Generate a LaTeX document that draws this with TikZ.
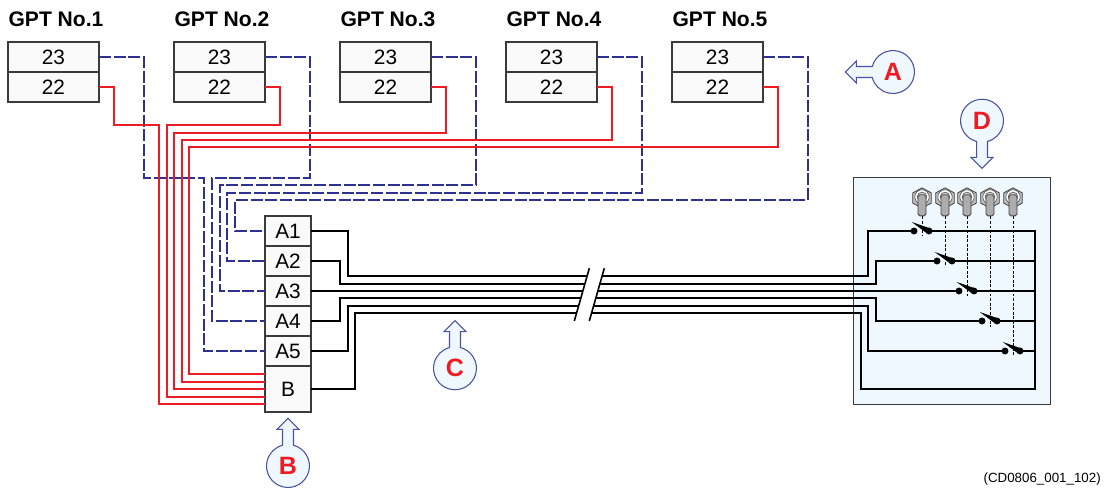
\documentclass[tikz,border=0pt]{standalone}
\usepackage{fontspec}
\setmainfont{Liberation Sans}
\usetikzlibrary{calc}
\definecolor{blueln}{HTML}{2E3192}
\definecolor{redln}{HTML}{ED1C24}
\definecolor{panelf}{HTML}{EFF8FE}
\definecolor{calloutd}{HTML}{4A52A3}
\definecolor{boxf}{HTML}{FAFAFA}
\definecolor{boxd}{HTML}{3A3A3A}
\tikzset{
  gptbox/.style={draw=boxd,fill=boxf,line width=1.1pt,minimum width=68.25pt,minimum height=22.5pt,inner sep=0pt,outer sep=0pt,font=\fontsize{15.6}{18}\selectfont},
  conbox/.style={draw=boxd,fill=boxf,line width=1.1pt,minimum width=34.5pt,inner sep=0pt,outer sep=0pt,font=\fontsize{15.6}{18}\selectfont},
  gpttitle/.style={font=\bfseries\fontsize{15.8}{18}\selectfont,inner sep=0pt},
  dashln/.style={draw=blueln,line width=1.5pt,dash pattern=on 9pt off 2pt},
  redwire/.style={draw=redln,line width=1.5pt},
  blackwire/.style={draw=black,line width=1.5pt},
  contact/.style={circle,fill=black,inner sep=0pt,minimum size=5.2pt},
  linkdash/.style={draw=black,line width=.75pt,dash pattern=on 2.2pt off 1.2pt},
  letter/.style={text=redln,font=\bfseries\fontsize{18.8}{20}\selectfont,inner sep=0pt},
}
\newcommand{\calloutshape}[3]{%
  \begin{scope}[shift={(#1,#2)},x=1pt,y=1pt,rotate=#3]
    \draw[draw=calloutd,fill=panelf,line width=.8pt,line join=miter]
      (4.1,15.57) arc[start angle=75.2,end angle=-255.2,radius=16.1]
      -- (-4.1,27.5) -- (-8.25,27.5) -- (0,35.8) -- (8.25,27.5) -- (4.1,27.5) -- cycle;
  \end{scope}}
\newcommand{\toggle}[2]{%
  \begin{scope}[shift={(#1,#2)},x=1pt,y=1pt]
    \draw[draw=black!75,fill=black!25,line width=.6pt]
      (0,7.6) -- (7,3.8) -- (7,-3.8) -- (0,-7.6) -- (-7,-3.8) -- (-7,3.8) -- cycle;
    \draw[draw=black!65,fill=white,line width=.5pt] (0,.8) circle[radius=5.4];
    \draw[draw=black!65,fill=black!15,line width=.5pt] (0,.8) circle[radius=3.6];
    \draw[draw=black!75,fill=black!32,line width=.6pt,rounded corners=1.4pt]
      (-3,2.4) -- (3,2.4) -- (3,-13.4) -- (-3,-13.4) -- cycle;
  \end{scope}}
\newcommand{\blade}[2]{%
  \fill[black] ($(#1)+(-2.3,-9)$) -- ($(#2)+(1.5,-2.5)$) -- ($(#2)+(-2.5,2)$) -- cycle;}
\begin{document}
\begin{tikzpicture}[x=.75pt,y=-.75pt]
\useasboundingbox (0,0) rectangle (1110,488);

% panel
\path[fill=panelf,draw=boxd,line width=.9pt] (853.5,177.5) rectangle (1050.3,404.3);

% GPT blocks
\foreach \n/\x in {1/53.5,2/219.5,3/385.5,4/551.5,5/717.5}{
  \node[gpttitle,anchor=base] (t\n) at (\x+2.5,27) {GPT No.\n};
  \node[gptbox] (g\n a) at (\x,57) {23};
  \node[gptbox] (g\n b) at (\x,87) {22};
}

% connector block
\node[conbox,minimum height=22.5pt] (a1) at (288,231) {A1};
\node[conbox,minimum height=22.5pt] (a2) at (288,261) {A2};
\node[conbox,minimum height=22.5pt] (a3) at (288,291) {A3};
\node[conbox,minimum height=22.5pt] (a4) at (288,321) {A4};
\node[conbox,minimum height=22.5pt] (a5) at (288,351) {A5};
\node[conbox,minimum height=34.5pt] (b)  at (288,389) {B};

% dashed wires
\draw[dashln] (g1a.east) -- (144,57) -- (144,178) -- (204,178) -- (204,351) -- (a5.west);
\draw[dashln] (g2a.east) -- (310,57) -- (310,178) -- (212,178) -- (212,321) -- (a4.west);
\draw[dashln] (g3a.east) -- (476,57) -- (476,185) -- (220,185) -- (220,291) -- (a3.west);
\draw[dashln] (g4a.east) -- (642,57) -- (642,193) -- (227,193) -- (227,261) -- (a2.west);
\draw[dashln] (g5a.east) -- (808,57) -- (808,200) -- (235,200) -- (235,231) -- (a1.west);

% red wires
\coordinate (r1) at (265,404);
\coordinate (r2) at (265,397);
\coordinate (r3) at (265,389);
\coordinate (r4) at (265,382);
\coordinate (r5) at (265,374);
\draw[redwire] (g1b.east) -- (114,87) -- (114,125) -- (159,125) -- (159,404) -- (r1);
\draw[redwire] (g2b.east) -- (280,87) -- (280,125) -- (167,125) -- (167,397) -- (r2);
\draw[redwire] (g3b.east) -- (446,87) -- (446,133) -- (174,133) -- (174,389) -- (r3);
\draw[redwire] (g4b.east) -- (612,87) -- (612,140) -- (182,140) -- (182,382) -- (r4);
\draw[redwire] (g5b.east) -- (778,87) -- (778,147) -- (189,147) -- (189,374) -- (r5);

% switch contacts
\foreach \k/\xa/\xb/\y in {1/914/929/231,2/937/952/261,3/959/974/291,4/982/997/321,5/1005/1020/351}{
  \node[contact] (sl\k) at (\xa,\y) {};
  \node[contact] (sr\k) at (\xb,\y) {};
  \blade{sl\k}{sr\k}
}

% black wires
\coordinate (busT) at (1035,231);
\coordinate (busB) at (1035,389);
\draw[blackwire] (a1.east) -- (348,231) -- (348,276) -- (868,276) -- (868,231) -- (sl1.center);
\draw[blackwire] (a2.east) -- (340,261) -- (340,284) -- (876,284) -- (876,261) -- (sl2.center);
\draw[blackwire] (a3.east) -- (sl3.center);
\draw[blackwire] (a4.east) -- (340,321) -- (340,298) -- (876,298) -- (876,321) -- (sl4.center);
\draw[blackwire] (a5.east) -- (348,351) -- (348,306) -- (868,306) -- (868,351) -- (sl5.center);
\draw[blackwire] (b.east) -- (355,389) -- (355,313) -- (861,313) -- (861,389) -- (busB) -- (busT) -- (sr1.center);
\draw[blackwire] (sr2.center) -- (1035,261);
\draw[blackwire] (sr3.center) -- (1035,291);
\draw[blackwire] (sr4.center) -- (1035,321);
\draw[blackwire] (sr5.center) -- (1035,351);

% break
\fill[white] (589.3,268.3) -- (604.3,268.3) -- (589.3,321) -- (574.3,321) -- cycle;
\draw[black,line width=1.2pt] (589.3,268.3) -- (574.3,321);
\draw[black,line width=1.2pt] (604.3,268.3) -- (589.3,321);

% toggles and links
\foreach \x/\yy in {922/236,945/266,967/297,990/327,1013/357}{
  \draw[linkdash] (\x,216.5) -- (\x,\yy);
  \toggle{\x}{198}
}

% callouts
\calloutshape{893}{72}{90}
\node[letter] (la) at (893,72) {A};
\calloutshape{982}{120.7}{180}
\node[letter] (ld) at (982,120.7) {D};
\calloutshape{455}{368.3}{0}
\node[letter] (lc) at (455,368.3) {C};
\calloutshape{288}{466}{0}
\node[letter] (lb) at (288,466) {B};

\node[anchor=base east,inner sep=0pt,font=\fontsize{10}{12}\selectfont] (code) at (1101,482) {(CD0806\_001\_102)};
\end{tikzpicture}
\end{document}
